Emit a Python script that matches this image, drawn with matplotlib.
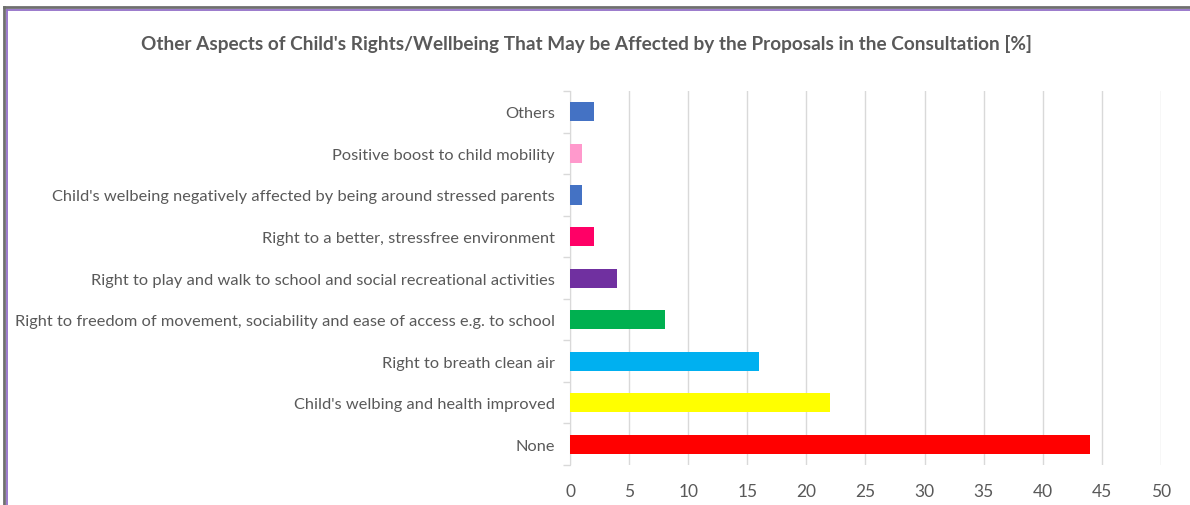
import matplotlib.pyplot as plt
from matplotlib.lines import Line2D
from matplotlib.ticker import FixedLocator

# survey answers, listed top to bottom as shown
categories = [
    "Others",
    "Positive boost to child mobility",
    "Child's welbeing negatively affected by being around stressed parents",
    "Right to a better, stressfree environment",
    "Right to play and walk to school and social recreational activities",
    "Right to freedom of movement, sociability and ease of access e.g. to school",
    "Right to breath clean air",
    "Child's welbing and health improved",
    "None",
]
percent = [2, 1, 1, 2, 4, 8, 16, 22, 44]
bar_colors = ["#4472C4", "#FF99CC", "#4472C4", "#FF0066", "#7030A0",
              "#00B050", "#00B0F0", "#FFFF00", "#FF0000"]
x_ticks = [0, 5, 10, 15, 20, 25, 30, 35, 40, 45, 50]

plt.rcParams["font.family"] = ["Lato", "DejaVu Sans"]
text_gray = "#595959"

fig = plt.figure(figsize=(11.9, 5.06), dpi=100)
ax = fig.add_axes([0.479, 0.079, 0.4966, 0.739])

pos = list(range(len(categories)))
ax.barh(pos, percent, height=0.46, color=bar_colors, zorder=3)
ax.set_ylim(len(categories) - 0.5, -0.5)
ax.set_xlim(0, 50)

ax.set_yticks(pos)
ax.set_yticklabels(categories)
ax.tick_params(axis="y", length=0, pad=11, labelsize=11.8, labelcolor=text_gray)
# little tick marks between categories, like the spreadsheet axis
ax.yaxis.set_minor_locator(FixedLocator([p - 0.5 for p in pos] + [len(pos) - 0.5]))
ax.tick_params(axis="y", which="minor", length=5, color="#d9d9d9", width=1)

ax.set_xticks(x_ticks)
ax.tick_params(axis="x", length=0, pad=13, labelsize=12.5, labelcolor=text_gray)
ax.grid(axis="x", color="#d9d9d9", linewidth=1, zorder=0)

for side in ["top", "right", "bottom"]:
    ax.spines[side].set_visible(False)
ax.spines["left"].set_color("#d9d9d9")

fig.text(0.493, 0.913, "Other Aspects of Child's Rights/Wellbeing That May be Affected by the Proposals in the Consultation [%]",
         ha="center", va="center", fontsize=13.7, fontweight="bold", color=text_gray)

# double frame along the top and left edge
fig.add_artist(Line2D([0.0035, 0.0035], [0, 0.985], transform=fig.transFigure, color="#6f6f6f", linewidth=2))
fig.add_artist(Line2D([0.0035, 1], [0.985, 0.985], transform=fig.transFigure, color="#6f6f6f", linewidth=2))
fig.add_artist(Line2D([0.0062, 0.0062], [0, 0.978], transform=fig.transFigure, color="#9370c8", linewidth=1.3))
fig.add_artist(Line2D([0.0062, 1], [0.978, 0.978], transform=fig.transFigure, color="#9370c8", linewidth=1.3))

fig.savefig("out.png", dpi=100)
